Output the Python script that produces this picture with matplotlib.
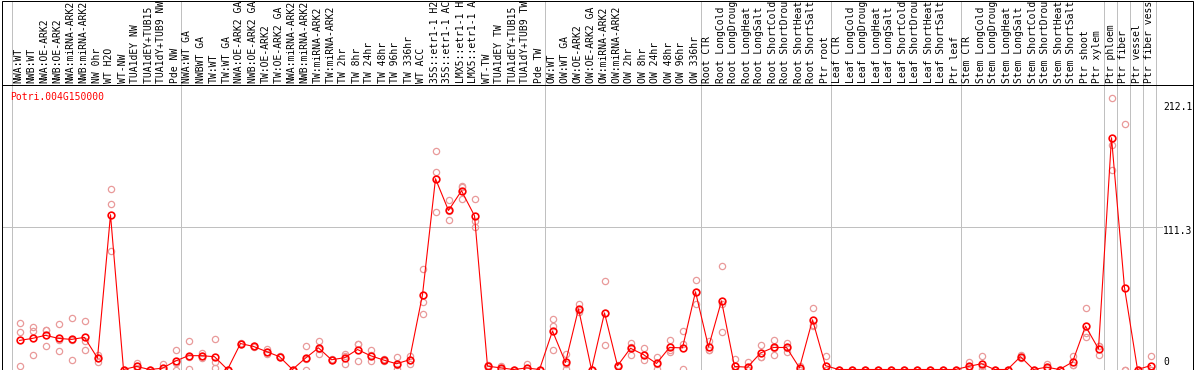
"""
expression profile of Potri.004G150000 across poplar samples,
replicates as pale circles and the mean as a red line
"""
import matplotlib
matplotlib.use("Agg")
import matplotlib.pyplot as plt
from matplotlib.patches import Rectangle
import numpy as np

GENE = "Potri.004G150000"

labels = [
    "NWA:WT", "NWB:WT", "NWA:OE-ARK2", "NWB:OE-ARK2", "NWA:miRNA-ARK2",
    "NWB:miRNA-ARK2", "NW 0hr", "WT H2O", "WT-NW", "TUA1dEY NW",
    "TUA1dEY+TUB15 NW", "TUA1dY+TUB9 NW", "Pde NW",
    "NWA:WT GA", "NWBWT GA", "TW:WT", "TW:WT GA", "NWA:OE-ARK2 GA",
    "NWB:OE-ARK2 GA", "TW:OE-ARK2", "TW:OE-ARK2 GA", "NWA:miRNA-ARK2 GA",
    "NWB:miRNA-ARK2 GA", "TW:miRNA-ARK2", "TW:miRNA-ARK2 GA", "TW 2hr",
    "TW 8hr", "TW 24hr", "TW 48hr", "TW 96hr", "TW 336hr", "WT ACC",
    "35S::etr1-1 H2O", "35S::etr1-1 ACC", "LMX5::etr1-1 H2O", "LMX5::etr1-1 ACC",
    "WT-TW", "TUA1dEY TW", "TUA1dEY+TUB15 TW", "TUA1dY+TUB9 TW", "Pde TW",
    "OW:WT", "OW:WT GA", "OW:OE-ARK2", "OW:OE-ARK2 GA", "OW:miRNA-ARK2",
    "OW:miRNA-ARK2 GA", "OW 2hr", "OW 8hr", "OW 24hr", "OW 48hr", "OW 96hr",
    "OW 336hr",
    "Root CTR", "Root LongCold", "Root LongDrought", "Root LongHeat",
    "Root LongSalt", "Root ShortCold", "Root ShortDrought", "Root ShortHeat",
    "Root ShortSalt", "Ptr root",
    "Leaf CTR", "Leaf LongCold", "Leaf LongDrought", "Leaf LongHeat",
    "Leaf LongSalt", "Leaf ShortCold", "Leaf ShortDrought", "Leaf ShortHeat",
    "Leaf ShortSalt", "Ptr leaf",
    "Stem CTR", "Stem LongCold", "Stem LongDrought", "Stem LongHeat",
    "Stem LongSalt", "Stem ShortCold", "Stem ShortDrought", "Stem ShortHeat",
    "Stem ShortSalt", "Ptr shoot", "Ptr xylem",
    "Ptr phloem", "Ptr fiber", "Ptr vessel", "Ptr fiber vessel",
]

# first sample index of each group (and the end)
group_starts = [0, 13, 41, 53, 63, 73, 84, 85, 86, 87, 88]

means = [
    22.7, 24.3, 26.7, 24.3, 23.5, 25.1, 8.9, 120.9, 0, 2.4,
    0, 1.0, 6.6, 10.8, 10.8, 10.0, 0, 20.3, 18.0, 14.0,
    10.0, 0, 8.9, 16.9, 7.6, 9.2, 15.6, 10.8, 7.4, 4.5,
    7.6, 58.4, 149.0, 124.2, 139.6, 120.1, 2.6, 1.3, 0, 1.2,
    0, 30.1, 5.5, 47.4, 0, 44.2, 2.9, 16.6, 11.6, 4.7,
    17.2, 16.9, 60.7, 17.6, 53.6, 2.4, 1.8, 12.9, 17.2, 17.2,
    1.3, 38.8, 3.0, 0, 0, 0, 0, 0, 0, 0,
    0, 0, 0, 2.4, 4.5, 0, 0, 10.0, 0, 1.8,
    0, 5.8, 33.9, 16.1, 181.0, 63.8, 0, 3.0,
]

rep1 = [
    36.2, 33.5, 30.9, 35.6, 40.1, 38.0, 11.6, 141.2, 0, 5.0,
    0, 4.0, 15.0, 22.2, 12.9, 23.7, 0, 21.0, 18.5, 16.3,
    10.8, 0, 18.2, 22.2, 8.5, 12.4, 20.3, 15.0, 8.2, 9.8,
    10.8, 78.7, 170.8, 132.6, 143.0, 132.8, 3.7, 2.4, 0, 4.5,
    0, 39.6, 11.9, 50.8, 0, 69.3, 3.2, 20.8, 16.6, 9.5,
    22.9, 30.1, 70.1, 22.2, 80.5, 8.2, 5.5, 19.5, 22.9, 20.8,
    2.9, 48.2, 10.3, 0, 0, 0, 0, 0, 0, 0,
    0, 0, 0, 5.5, 10.3, 0, 0, 11.0, 0, 4.0,
    0, 10.8, 48.2, 18.4, 212.1, 192.0, 0, 10.3,
]

rep2 = [
    29.0, 30.1, 18.2, 14.2, 7.7, 15.0, 5.8, 129.5, 0, 1.5,
    0, 0, 4.8, 10.0, 8.9, 5.5, 0, 20.0, 17.5, 12.4,
    9.5, 0, 8.5, 12.4, 7.2, 4.5, 6.9, 6.3, 6.4, 0.5,
    4.2, 53.1, 154.0, 116.4, 133.3, 111.2, 2.6, 1.0, 0, 0,
    0, 34.3, 4.0, 44.7, 0, 19.0, 2.9, 11.3, 7.1, 0.5,
    13.7, 20.3, 51.3, 15.6, 28.9, 0, 0, 9.8, 11.6, 13.7,
    1.0, 34.4, 0, 0, 0, 0, 0, 0, 0, 0,
    0, 0, 0, 1.7, 3.0, 0, 0, 10.0, 0, 1.4,
    0, 3.2, 25.0, 11.3, 175.0, 0, 0, 0,
]

rep3 = [
    2.6, 11.1, 31.0, 23.1, 22.7, 22.3, 9.3, 92.7, 0, 0.7,
    0, 0, 0, 0.3, 10.6, 0.8, 0, 20.0, 18.0, 13.3,
    9.7, 0, 0, 16.1, 7.1, 10.7, 19.6, 11.1, 7.6, 3.2,
    7.8, 43.5, 123.4, 123.6, 142.6, 116.2, 1.5, 0.5, 0, 0,
    0, 15.0, 0.5, 46.7, 0, 44.4, 2.6, 17.7, 11.1, 4.1,
    15.0, 0.2, 60.7, 15.0, 51.4, 0, 0, 9.4, 17.1, 17.1,
    0, 33.9, 0, 0, 0, 0, 0, 0, 0, 0,
    0, 0, 0, 0, 0.3, 0, 0, 9.0, 0, 0,
    0, 3.4, 28.4, 18.6, 156.0, 0, 0, 0,
]

Y_MAX = 212.1
Y_MID = 111.3
Y_TOP = 2 * Y_MID

W, H = 1194, 370
PX = 0.72  # one pixel in points at dpi 100
MONO = "DejaVu Sans Mono"
PALE = "#e99a9a"
GRID = "#c0c0c0"

x = np.arange(len(labels))

fig = plt.figure(figsize=(W / 100, H / 100), dpi=100)
ax = fig.add_axes([1.5 / W, 0.5 / H, 1191 / W, 285 / H])
ax.set_xlim((1.5 - 19.5) / 13, (1192.5 - 19.5) / 13)
ax.set_ylim(0, Y_TOP)
ax.set_xticks([])
ax.set_yticks([])
for s in ax.spines.values():
    s.set_linewidth(PX)
    s.set_color("black")

# group separators run up through the label strip
for b in group_starts:
    ax.axvline(b - 0.6, ymin=0, ymax=369 / 285, color=GRID, lw=PX,
               clip_on=False, zorder=0)
ax.axhline(Y_MID, xmin=0, xmax=(1162 - 1.5) / 1191, color=GRID, lw=PX, zorder=0)

for rep in (rep1, rep2, rep3):
    ax.plot(x, rep, ls="none", marker="o", ms=4.5, mfc="none",
            mec=PALE, mew=0.9, zorder=2)
ax.plot(x, means, color="red", lw=0.8, zorder=3)
ax.plot(x, means, ls="none", marker="o", ms=4.8, mfc="none",
        mec="red", mew=1.2, zorder=4)

# sample names, cut to 14 characters like the original
for i, lab in enumerate(labels):
    ax.annotate(lab[:14], xy=(i, 1), xycoords=("data", "axes fraction"),
                xytext=(-1, 1.5), textcoords="offset pixels", rotation=90,
                ha="center", va="bottom", fontsize=7, family=MONO,
                annotation_clip=False)

ax.annotate(GENE, xy=(0, 1), xycoords="axes fraction", xytext=(8.5, -13),
            textcoords="offset pixels", ha="left", va="center",
            fontsize=7, family=MONO, color="red")

# value labels on the right
for val, txt, dy in [(Y_MAX, "{:.1f}".format(Y_MAX), -9),
                     (Y_MID, "{:.1f}".format(Y_MID), -4.5),
                     (0, "0", 7.5)]:
    ax.annotate(txt, xy=(1, val), xycoords=("axes fraction", "data"),
                xytext=(1163 - 1192.5, dy), textcoords="offset pixels",
                ha="left", va="center", fontsize=7, family=MONO,
                annotation_clip=False)

fig.add_artist(Rectangle((1.5 / W, 0.5 / H), 1191 / W, 369 / H,
                         transform=fig.transFigure, fill=False,
                         ec="black", lw=PX))

fig.savefig("out.png", dpi=100)
